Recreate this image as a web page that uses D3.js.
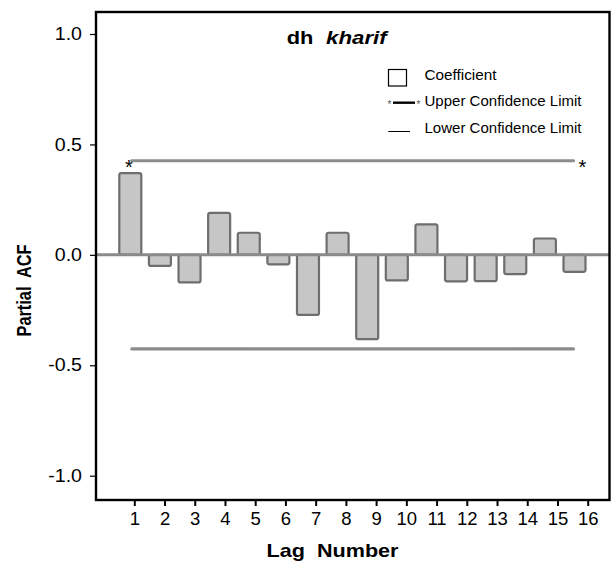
<!DOCTYPE html>
<html>
<head>
<meta charset="utf-8">
<script src="https://cdn.jsdelivr.net/npm/d3@7"></script>
<style>
  html, body { margin: 0; padding: 0; background: #fff; }
  svg { display: block; }
  text { font-family: "Liberation Sans", Arial, sans-serif; }
</style>
</head>
<body>
<script>
// ---------------- data ----------------
const lags = [1, 2, 3, 4, 5, 6, 7, 8, 9, 10, 11, 12, 13, 14, 15, 16];
const coefficients = [0.37, -0.05, -0.125, 0.19, 0.10, -0.043, -0.272, 0.10, -0.382, -0.116, 0.138, -0.12, -0.119, -0.087, 0.074, -0.077];
const upperLimit = 0.426;
const lowerLimit = -0.426;
const yTicks = [-1.0, -0.5, 0.0, 0.5, 1.0];
const titleMain = "dh";
const titleItalic = "kharif";
const xTitle = "Lag  Number";
const yTitle = "Partial  ACF";
const legendLabels = ["Coefficient", "Upper Confidence Limit", "Lower Confidence Limit"];

// ---------------- layout ----------------
const W = 613, H = 561;
const frame = { left: 96, right: 609.5, top: 12, bottom: 500 };

const svg = d3.select("body").append("svg").attr("width", W).attr("height", H);

const y = d3.scaleLinear().domain([-1, 1]).range([475.7, 34]);
const xTick = d3.scaleLinear().domain([1, 16]).range([134.3, 587.7]);
const xBar = d3.scaleLinear().domain([1, 16]).range([130.3, 574.5]);
const barW = 22;

function stretch(sel, f) {
  sel.each(function () {
    const L = this.getComputedTextLength();
    d3.select(this).attr("textLength", L * f).attr("lengthAdjust", "spacingAndGlyphs");
  });
}

// bars
svg.append("g").selectAll("rect").data(lags).join("rect")
  .attr("x", (d) => xBar(d) - barW / 2)
  .attr("width", barW)
  .attr("y", (d, i) => y(Math.max(0, coefficients[i])))
  .attr("height", (d, i) => Math.abs(y(coefficients[i]) - y(0)))
  .attr("rx", 2).attr("ry", 2)
  .attr("fill", "#c6c6c6")
  .attr("stroke", "#6e6e6e")
  .attr("stroke-width", 2.2);

// zero line
svg.append("line")
  .attr("x1", frame.left).attr("x2", frame.right)
  .attr("y1", y(0)).attr("y2", y(0))
  .attr("stroke", "#8a8a8a").attr("stroke-width", 3);

// confidence limits
[upperLimit, lowerLimit].forEach((v) => {
  svg.append("line")
    .attr("x1", xBar(1) + 1.5).attr("x2", xBar(16) - 1)
    .attr("y1", y(v)).attr("y2", y(v))
    .attr("stroke", "#8c8c8c").attr("stroke-width", 3.2)
    .attr("stroke-linecap", "round");
});
svg.append("text").attr("x", xBar(1) - 1.5).attr("y", y(upperLimit) + 13)
  .attr("text-anchor", "middle").attr("font-size", 20).text("*");
svg.append("text").attr("x", xBar(16) + 8).attr("y", y(upperLimit) + 13.5)
  .attr("text-anchor", "middle").attr("font-size", 20).text("*");

// frame
svg.append("rect")
  .attr("x", frame.left).attr("y", frame.top)
  .attr("width", frame.right - frame.left).attr("height", frame.bottom - frame.top)
  .attr("fill", "none").attr("stroke", "#000").attr("stroke-width", 2.4);

// y axis
const gy = svg.append("g").attr("transform", `translate(${frame.left - 1},0)`)
  .call(d3.axisLeft(y).tickValues(yTicks).tickFormat((d) => d.toFixed(1)).tickSize(5).tickPadding(8));
gy.select(".domain").remove();
gy.selectAll(".tick line").attr("stroke", "#000").attr("stroke-width", 1.2);
gy.selectAll(".tick text").attr("font-size", 17.5).attr("fill", "#000");
stretch(gy.selectAll(".tick text"), 1.12);

// x axis
const gx = svg.append("g").attr("transform", `translate(0,${frame.bottom})`)
  .call(d3.axisBottom(xTick).tickValues(lags).tickFormat(d3.format("d")).tickSize(6).tickPadding(6));
gx.select(".domain").remove();
gx.selectAll(".tick line").attr("stroke", "#000").attr("stroke-width", 2);
gx.selectAll(".tick text").attr("font-size", 18.5).attr("fill", "#000");

// axis titles
svg.append("text").attr("x", 332.5).attr("y", 556.7)
  .attr("text-anchor", "middle").attr("font-weight", "bold").attr("font-size", 18.5)
  .style("white-space", "pre").attr("textLength", 132).attr("lengthAdjust", "spacingAndGlyphs")
  .text(xTitle);

svg.append("text").attr("transform", "translate(31,290.5) rotate(-90)")
  .attr("text-anchor", "middle").attr("font-weight", "bold").attr("font-size", 20)
  .style("white-space", "pre").attr("textLength", 92).attr("lengthAdjust", "spacingAndGlyphs")
  .text(yTitle);

// title
svg.append("text").attr("x", 286.7).attr("y", 44.3).attr("font-weight", "bold").attr("font-size", 17.5)
  .attr("textLength", 26.7).attr("lengthAdjust", "spacingAndGlyphs").text(titleMain);
svg.append("text").attr("x", 326).attr("y", 44.3).attr("font-weight", "bold").attr("font-style", "italic")
  .attr("font-size", 17.5).attr("textLength", 60.7).attr("lengthAdjust", "spacingAndGlyphs").text(titleItalic);

// legend
const lg = svg.append("g");
const rowY = [80, 106.3, 132.7];
lg.append("rect").attr("x", 388.5).attr("y", 69.5).attr("width", 18).attr("height", 16.5)
  .attr("fill", "#fff").attr("stroke", "#000").attr("stroke-width", 1.2);
lg.append("line").attr("x1", 393).attr("x2", 415).attr("y1", 102.7).attr("y2", 102.7)
  .attr("stroke", "#000").attr("stroke-width", 2.4);
lg.append("text").attr("x", 389.5).attr("y", 108).attr("text-anchor", "middle")
  .attr("font-size", 10).attr("fill", "#555").text("*");
lg.append("text").attr("x", 418.5).attr("y", 108).attr("text-anchor", "middle")
  .attr("font-size", 10).attr("fill", "#555").text("*");
lg.append("line").attr("x1", 388.3).attr("x2", 410).attr("y1", 131.5).attr("y2", 131.5)
  .attr("stroke", "#000").attr("stroke-width", 1);
const legendWidths = [72, 157, 157];
lg.selectAll("text.lbl").data(legendLabels).join("text").attr("class", "lbl")
  .attr("x", 424.5).attr("y", (d, i) => rowY[i])
  .attr("font-size", 15).attr("fill", "#000")
  .attr("textLength", (d, i) => legendWidths[i]).attr("lengthAdjust", "spacingAndGlyphs")
  .text((d) => d);
</script>
</body>
</html>
